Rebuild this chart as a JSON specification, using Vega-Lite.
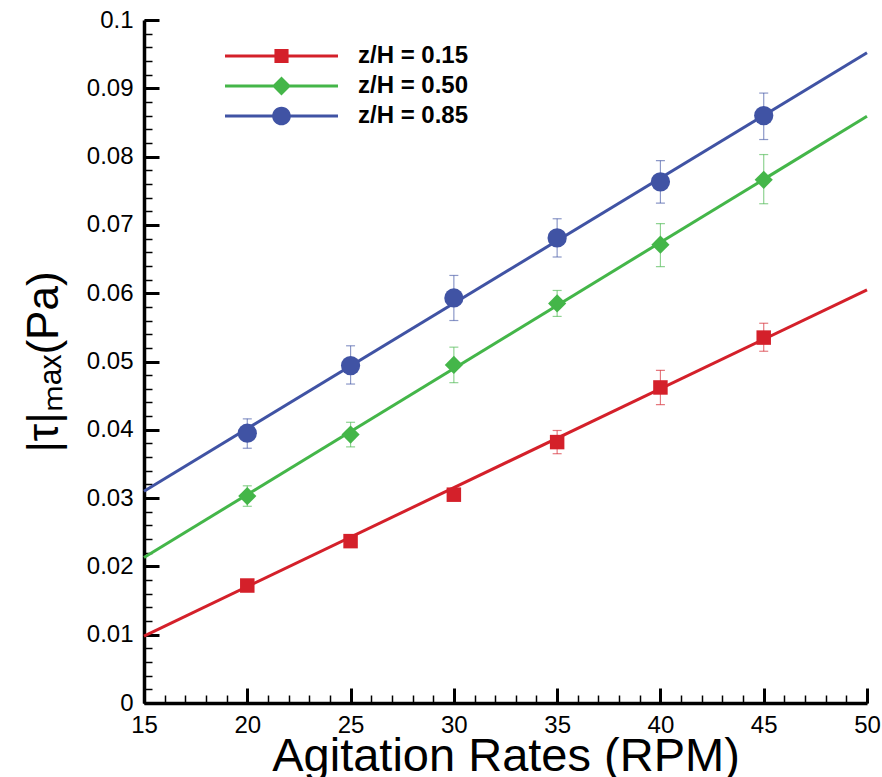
{
  "$schema": "https://vega.github.io/schema/vega-lite/v6.json",
  "width": 723,
  "height": 683,
  "autosize": "none",
  "padding": {"left": 144, "top": 20, "right": 15, "bottom": 74},
  "background": "white",
  "config": {"view": {"stroke": null}, "font": "Liberation Sans"},
  "datasets": {
    "pts": [
      {"series": "z/H = 0.15", "x": 20, "y": 0.0172, "lo": 0.0168, "hi": 0.0176},
      {"series": "z/H = 0.15", "x": 25, "y": 0.0237, "lo": 0.0233, "hi": 0.0241},
      {"series": "z/H = 0.15", "x": 30, "y": 0.0305, "lo": 0.0297, "hi": 0.0314},
      {"series": "z/H = 0.15", "x": 35, "y": 0.0382, "lo": 0.0365, "hi": 0.0399},
      {"series": "z/H = 0.15", "x": 40, "y": 0.0462, "lo": 0.0437, "hi": 0.0487},
      {"series": "z/H = 0.15", "x": 45, "y": 0.0535, "lo": 0.0515, "hi": 0.0556},
      {"series": "z/H = 0.50", "x": 20, "y": 0.0303, "lo": 0.0288, "hi": 0.0318},
      {"series": "z/H = 0.50", "x": 25, "y": 0.0393, "lo": 0.0375, "hi": 0.0411},
      {"series": "z/H = 0.50", "x": 30, "y": 0.0495, "lo": 0.0469, "hi": 0.0521},
      {"series": "z/H = 0.50", "x": 35, "y": 0.0585, "lo": 0.0566, "hi": 0.0604},
      {"series": "z/H = 0.50", "x": 40, "y": 0.0671, "lo": 0.0639, "hi": 0.0702},
      {"series": "z/H = 0.50", "x": 45, "y": 0.0766, "lo": 0.0731, "hi": 0.0803},
      {"series": "z/H = 0.85", "x": 20, "y": 0.0395, "lo": 0.0373, "hi": 0.0416},
      {"series": "z/H = 0.85", "x": 25, "y": 0.0494, "lo": 0.0467, "hi": 0.0523},
      {"series": "z/H = 0.85", "x": 30, "y": 0.0593, "lo": 0.0560, "hi": 0.0626},
      {"series": "z/H = 0.85", "x": 35, "y": 0.0681, "lo": 0.0653, "hi": 0.0709},
      {"series": "z/H = 0.85", "x": 40, "y": 0.0763, "lo": 0.0732, "hi": 0.0794},
      {"series": "z/H = 0.85", "x": 45, "y": 0.0860, "lo": 0.0825, "hi": 0.0893}
    ],
    "fits": [
      {"series": "z/H = 0.15", "x": 15, "y": 0.0098},
      {"series": "z/H = 0.15", "x": 50, "y": 0.0605},
      {"series": "z/H = 0.50", "x": 15, "y": 0.0213},
      {"series": "z/H = 0.50", "x": 50, "y": 0.0859},
      {"series": "z/H = 0.85", "x": 15, "y": 0.0310},
      {"series": "z/H = 0.85", "x": 50, "y": 0.0952}
    ]
  },
  "resolve": {"axis": {"x": "independent", "y": "independent"}},
  "layer": [
    {
      "data": {"name": "pts"},
      "mark": {"type": "rule", "strokeWidth": 1.2, "opacity": 0.6},
      "encoding": {
        "x": {"field": "x", "type": "quantitative", "scale": {"domain": [15, 50], "nice": false, "zero": false},
          "axis": {"orient": "bottom", "values": [15,16,17,18,19,20,21,22,23,24,25,26,27,28,29,30,31,32,33,34,35,36,37,38,39,40,41,42,43,44,45,46,47,48,49,50],
            "tickSize": -8, "tickWidth": 1.5, "tickColor": "black", "labels": false, "domain": false, "grid": false, "title": null}},
        "y": {"field": "lo", "type": "quantitative", "scale": {"domain": [0, 0.1], "nice": false},
          "axis": {"orient": "left", "values": [0,0.002,0.004,0.006,0.008,0.01,0.012,0.014,0.016,0.018,0.02,0.022,0.024,0.026,0.028,0.03,0.032,0.034,0.036,0.038,0.04,0.042,0.044,0.046,0.048,0.05,0.052,0.054,0.056,0.058,0.06,0.062,0.064,0.066,0.068,0.07,0.072,0.074,0.076,0.078,0.08,0.082,0.084,0.086,0.088,0.09,0.092,0.094,0.096,0.098,0.1],
            "tickSize": -8, "tickWidth": 1.5, "tickColor": "black", "labels": false, "domain": false, "grid": false, "title": null}},
        "y2": {"field": "hi"},
        "stroke": {"field": "series", "type": "nominal", "legend": null,
          "scale": {"range": ["#d4202a", "#44b649", "#4053a4"]}}
      }
    },
    {
      "data": {"name": "pts"},
      "mark": {"type": "tick", "orient": "horizontal", "size": 9, "thickness": 1.2, "opacity": 0.6},
      "encoding": {
        "x": {"field": "x", "type": "quantitative", "axis": null},
        "y": {"field": "lo", "type": "quantitative", "axis": null},
        "fill": {"field": "series", "type": "nominal", "legend": null,
          "scale": {"range": ["#d4202a", "#44b649", "#4053a4"]}}
      }
    },
    {
      "data": {"name": "pts"},
      "mark": {"type": "tick", "orient": "horizontal", "size": 9, "thickness": 1.2, "opacity": 0.6},
      "encoding": {
        "x": {"field": "x", "type": "quantitative", "axis": null},
        "y": {"field": "hi", "type": "quantitative", "axis": null},
        "fill": {"field": "series", "type": "nominal", "legend": null}
      }
    },
    {
      "data": {"name": "fits"},
      "mark": {"type": "line", "strokeWidth": 3},
      "encoding": {
        "x": {"field": "x", "type": "quantitative",
          "axis": {"orient": "bottom", "values": [15,20,25,30,35,40,45,50], "tickSize": -15, "tickWidth": 3, "tickColor": "black",
            "domain": true, "domainWidth": 3.5, "domainColor": "black", "grid": false,
            "labelFont": "Liberation Sans", "labelFontSize": 24, "labelColor": "black", "labelPadding": 25, "labelFlush": false, "labelOverlap": false,
            "title": "Agitation Rates (RPM)", "titleFont": "Liberation Sans", "titleFontSize": 47, "titleFontWeight": "normal", "titleColor": "black", "titlePadding": -4}},
        "y": {"field": "y", "type": "quantitative",
          "axis": {"orient": "left", "values": [0,0.01,0.02,0.03,0.04,0.05,0.06,0.07,0.08,0.09,0.1], "format": ".2~f", "tickSize": -15, "tickWidth": 3, "tickColor": "black",
            "domain": true, "domainWidth": 3.5, "domainColor": "black", "grid": false,
            "labelFont": "Liberation Sans", "labelFontSize": 24, "labelColor": "black", "labelPadding": 26, "labelFlush": false, "labelOverlap": false,
            "title": "|τ|ₘₐₓ(Pa)", "titleFont": "Liberation Sans", "titleFontSize": 44, "titleFontWeight": "normal", "titleColor": "black", "titlePadding": 20}},
        "stroke": {"field": "series", "type": "nominal", "legend": null},
        "detail": {"field": "series"}
      }
    },
    {
      "data": {"name": "pts"},
      "transform": [{"filter": "datum.series == 'z/H = 0.15'"}],
      "mark": {"type": "point", "shape": "square", "filled": true, "size": 210, "opacity": 1, "color": "#d4202a"},
      "encoding": {
        "x": {"field": "x", "type": "quantitative", "axis": null},
        "y": {"field": "y", "type": "quantitative", "axis": null}
      }
    },
    {
      "data": {"name": "pts"},
      "transform": [{"filter": "datum.series == 'z/H = 0.50'"}],
      "mark": {"type": "point", "shape": "diamond", "filled": true, "size": 330, "opacity": 1, "color": "#44b649"},
      "encoding": {
        "x": {"field": "x", "type": "quantitative", "axis": null},
        "y": {"field": "y", "type": "quantitative", "axis": null}
      }
    },
    {
      "data": {"name": "pts"},
      "transform": [{"filter": "datum.series == 'z/H = 0.85'"}],
      "mark": {"type": "point", "shape": "circle", "filled": true, "size": 370, "opacity": 1, "color": "#4053a4"},
      "encoding": {
        "x": {"field": "x", "type": "quantitative", "axis": null},
        "y": {"field": "y", "type": "quantitative", "axis": null}
      }
    },
    {
      "data": {"name": "pts"},
      "transform": [{"filter": "false"}],
      "mark": {"type": "point", "filled": true, "size": 12769, "opacity": 1, "strokeWidth": 0},
      "encoding": {
        "color": {"field": "series", "type": "nominal",
          "scale": {"domain": ["z/H = 0.15", "z/H = 0.50", "z/H = 0.85"], "range": ["#d4202a", "#44b649", "#4053a4"]},
          "legend": {"orient": "none", "legendX": 81, "legendY": 21, "title": null, "padding": 0, "clipHeight": 30,
            "labelFont": "Liberation Sans", "labelFontSize": 24, "labelFontWeight": "bold", "labelColor": "black",
            "symbolSize": 12769, "symbolStrokeWidth": 0, "symbolOpacity": 1, "labelOffset": 20, "rowPadding": 0}},
        "shape": {"field": "series", "type": "nominal",
          "scale": {"domain": ["z/H = 0.15", "z/H = 0.50", "z/H = 0.85"],
            "range": ["M-1,-0.0265H1V0.0265H-1Z M-0.125,-0.125H0.125V0.125H-0.125Z",
                      "M-1,-0.0265H1V0.0265H-1Z M0,-0.168L0.168,0L0,0.168L-0.168,0Z",
                      "M-1,-0.0265H1V0.0265H-1Z M-0.165,0A0.165,0.165 0 1,1 0.165,0A0.165,0.165 0 1,1 -0.165,0Z"]},
          "legend": {"orient": "none", "legendX": 81, "legendY": 21, "title": null, "padding": 0, "clipHeight": 30,
            "labelFont": "Liberation Sans", "labelFontSize": 24, "labelFontWeight": "bold", "labelColor": "black",
            "symbolSize": 12769, "symbolStrokeWidth": 0, "symbolOpacity": 1, "labelOffset": 20, "rowPadding": 0}}
      }
    }
  ]
}
